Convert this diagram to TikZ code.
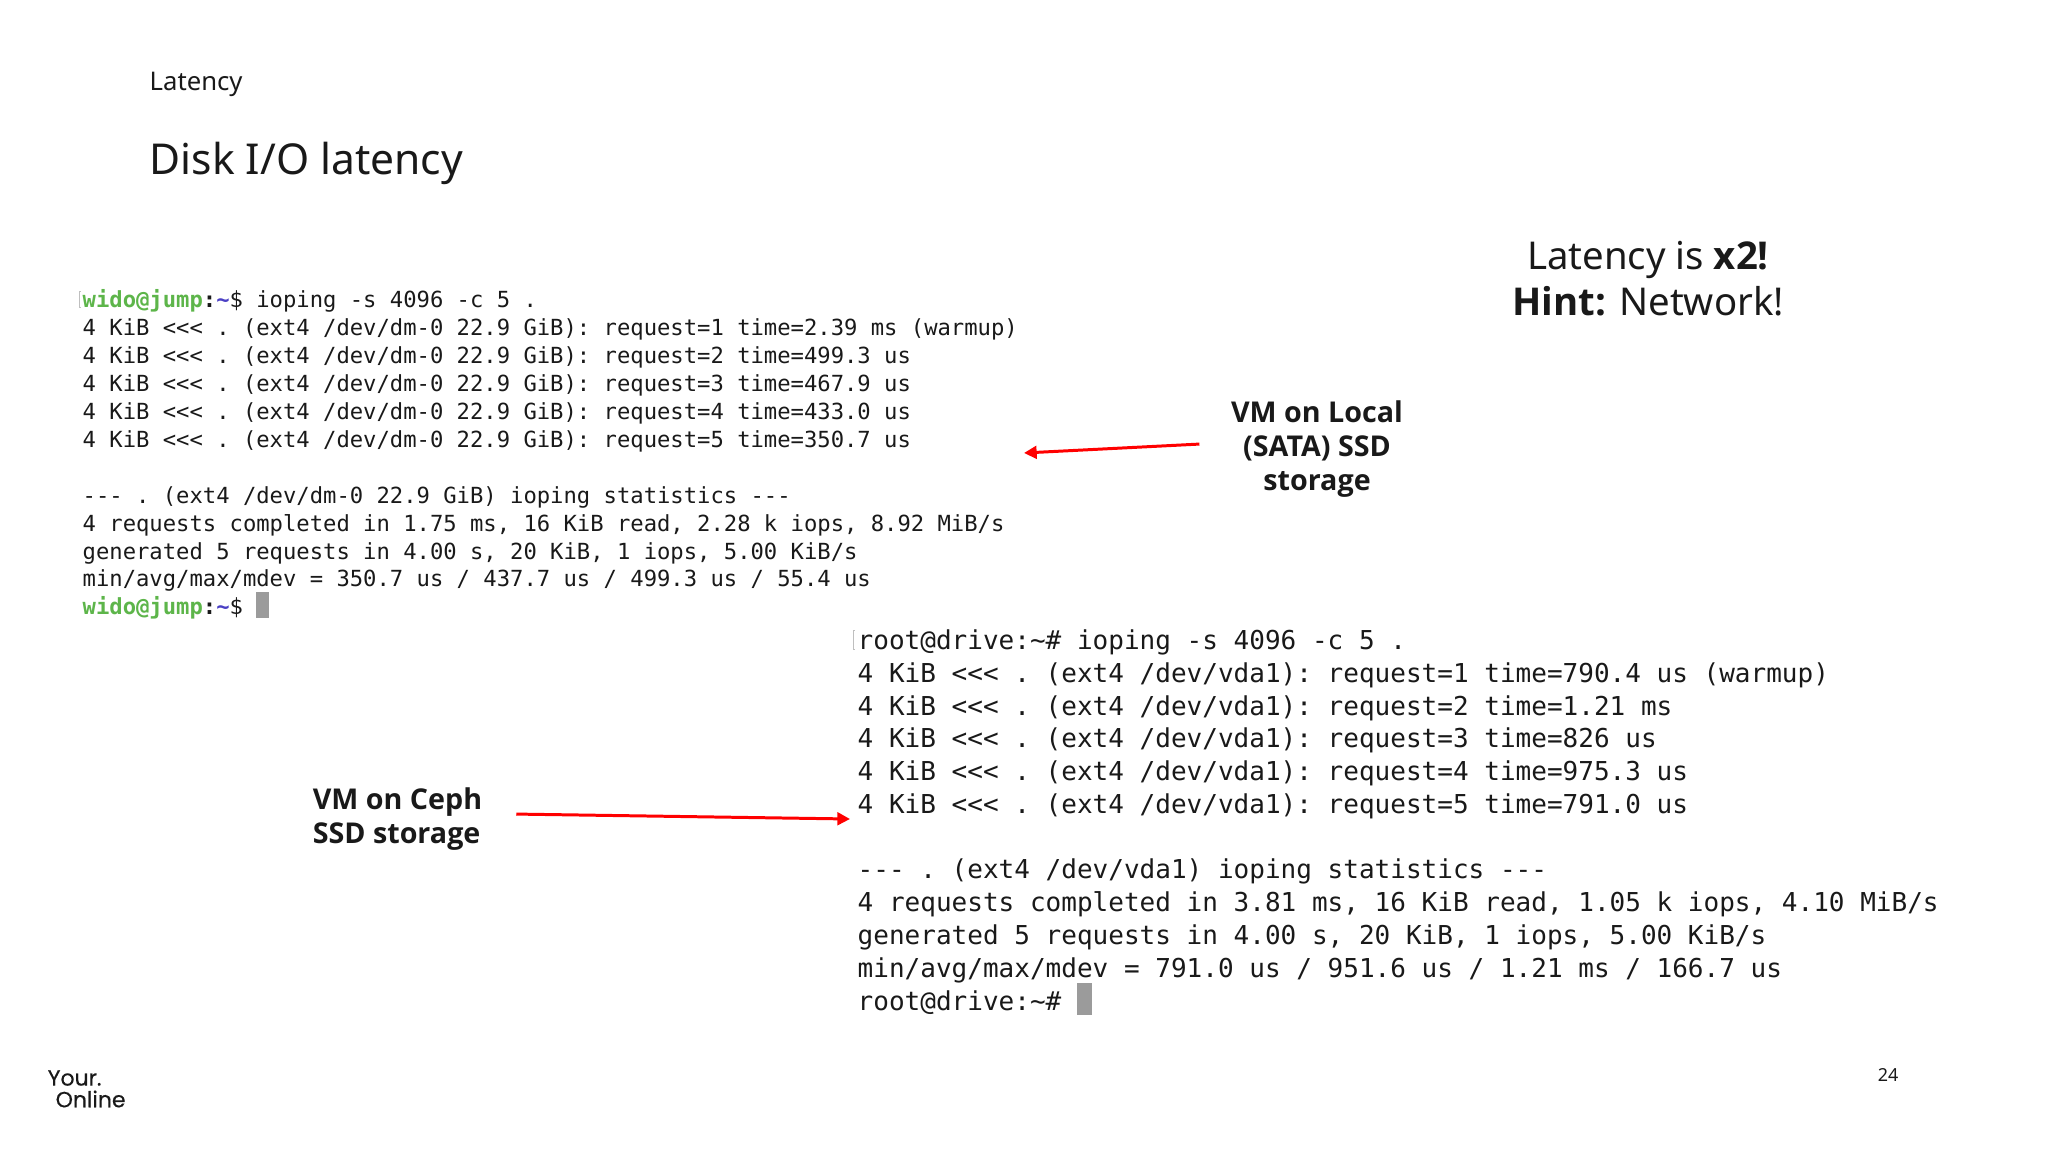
\documentclass[tikz,border=0pt]{standalone}
\usepackage{xcolor}
\usepackage{fontspec}
\setmainfont{Noto Sans}
\setmonofont{DejaVu Sans Mono}
\newfontfamily\logofont{Poppins}[FakeBold=0.4]
\newfontfamily\strongfont{Open Sans}
\usetikzlibrary{arrows.meta}
\definecolor{promptgreen}{HTML}{5DB54A}
\definecolor{promptblue}{HTML}{4A3FC4}
\definecolor{cursorgray}{HTML}{9B9B9B}
\newcommand{\widoprompt}{{\bfseries\textcolor{promptgreen}{wido@jump}:\textcolor{promptblue}{\textasciitilde}}\$}
\newcommand{\strongword}[1]{{\strongfont\bfseries #1}}
\tikzset{
    plaintext/.style={inner sep=0, text=black!90, align=left},
    termsmall/.style={plaintext, anchor=north west, font=\ttfamily\fontsize{6.31}{7.94}\selectfont},
    termbig/.style={plaintext, anchor=north west, font=\ttfamily\fontsize{7.4}{9.32}\selectfont},
    callout/.style={plaintext, font=\strongfont\bfseries\fontsize{8.15}{9.7}\selectfont},
    redarrow/.style={draw=red, line width=0.85pt, -{Triangle[length=3.6pt,width=3.6pt]}},
    termcursor/.style={fill=cursorgray, draw=none, inner sep=0},
    termedge/.style={draw=black!25, line width=0.25pt}
}
\begin{document}
\begin{tikzpicture}[x=0.01cm, y=-0.01cm]
    \useasboundingbox (0, 0) rectangle (2048, 1152);
    \node[plaintext, anchor=west, font=\fontsize{7.3}{9}\selectfont] (section) at (149, 84) {Latency};
    \node[plaintext, anchor=west, font=\fontsize{12.1}{14}\selectfont] (title) at (149, 163) {Disk I/O latency};
    \node[plaintext, align=center, font=\fontsize{10.9}{13}\selectfont] (hint) at (1648, 279) {Latency is \strongword{x2!}\\\strongword{Hint:} Network!};

    \node[termsmall] (jumpterm) at (82, 289) {%
        \widoprompt{} ioping -s 4096 -c 5 .\\
        4 KiB <{}<{}< . (ext4 /dev/dm-0 22.9 GiB): request=1 time=2.39 ms (warmup)\\
        4 KiB <{}<{}< . (ext4 /dev/dm-0 22.9 GiB): request=2 time=499.3 us\\
        4 KiB <{}<{}< . (ext4 /dev/dm-0 22.9 GiB): request=3 time=467.9 us\\
        4 KiB <{}<{}< . (ext4 /dev/dm-0 22.9 GiB): request=4 time=433.0 us\\
        4 KiB <{}<{}< . (ext4 /dev/dm-0 22.9 GiB): request=5 time=350.7 us\\
        \strut\\
        --- . (ext4 /dev/dm-0 22.9 GiB) ioping statistics ---\\
        4 requests completed in 1.75 ms, 16 KiB read, 2.28 k iops, 8.92 MiB/s\\
        generated 5 requests in 4.00 s, 20 KiB, 1 iops, 5.00 KiB/s\\
        min/avg/max/mdev = 350.7 us / 437.7 us / 499.3 us / 55.4 us\\
        \widoprompt};
    \node[termbig] (driveterm) at (857, 629) {%
        root@drive:\textasciitilde\# ioping -s 4096 -c 5 .\\
        4 KiB <{}<{}< . (ext4 /dev/vda1): request=1 time=790.4 us (warmup)\\
        4 KiB <{}<{}< . (ext4 /dev/vda1): request=2 time=1.21 ms\\
        4 KiB <{}<{}< . (ext4 /dev/vda1): request=3 time=826 us\\
        4 KiB <{}<{}< . (ext4 /dev/vda1): request=4 time=975.3 us\\
        4 KiB <{}<{}< . (ext4 /dev/vda1): request=5 time=791.0 us\\
        \strut\\
        --- . (ext4 /dev/vda1) ioping statistics ---\\
        4 requests completed in 3.81 ms, 16 KiB read, 1.05 k iops, 4.10 MiB/s\\
        generated 5 requests in 4.00 s, 20 KiB, 1 iops, 5.00 KiB/s\\
        min/avg/max/mdev = 791.0 us / 951.6 us / 1.21 ms / 166.7 us\\
        root@drive:\textasciitilde\#};
    \path[termcursor] (256, 592) rectangle (269, 618);
    \path[termcursor] (1077, 983) rectangle (1092, 1015);
    \draw[termedge] (81, 291) -- (79, 291) -- (79, 307) -- (81, 307);
    \draw[termedge] (855, 630) -- (853, 630) -- (853, 649) -- (855, 649);

    \node[callout, align=center, outer xsep=9pt] (locallabel) at (1317, 449) {VM on Local\\(SATA) SSD\\storage};
    \node[callout, outer xsep=9.7pt] (cephlabel) at (397.5, 819) {VM on Ceph\\SSD storage};
    \coordinate (localtip) at (1024, 453);
    \coordinate (cephtip) at (850, 819);
    \draw[redarrow] ([yshift=1.4pt]locallabel.west) -- (localtip);
    \draw[redarrow] ([yshift=1.4pt]cephlabel.east) -- (cephtip);

    \node[plaintext, font=\fontsize{5.1}{6}\selectfont] (pagenum) at (1888, 1075) {24};
    \node[plaintext, anchor=west, font=\logofont\fontsize{6.25}{6.4}\selectfont] (logotop) at (47, 1078) {Your.};
    \node[plaintext, anchor=west, font=\logofont\fontsize{6.25}{6.4}\selectfont] (logobottom) at (55, 1099) {Online};
\end{tikzpicture}
\end{document}
